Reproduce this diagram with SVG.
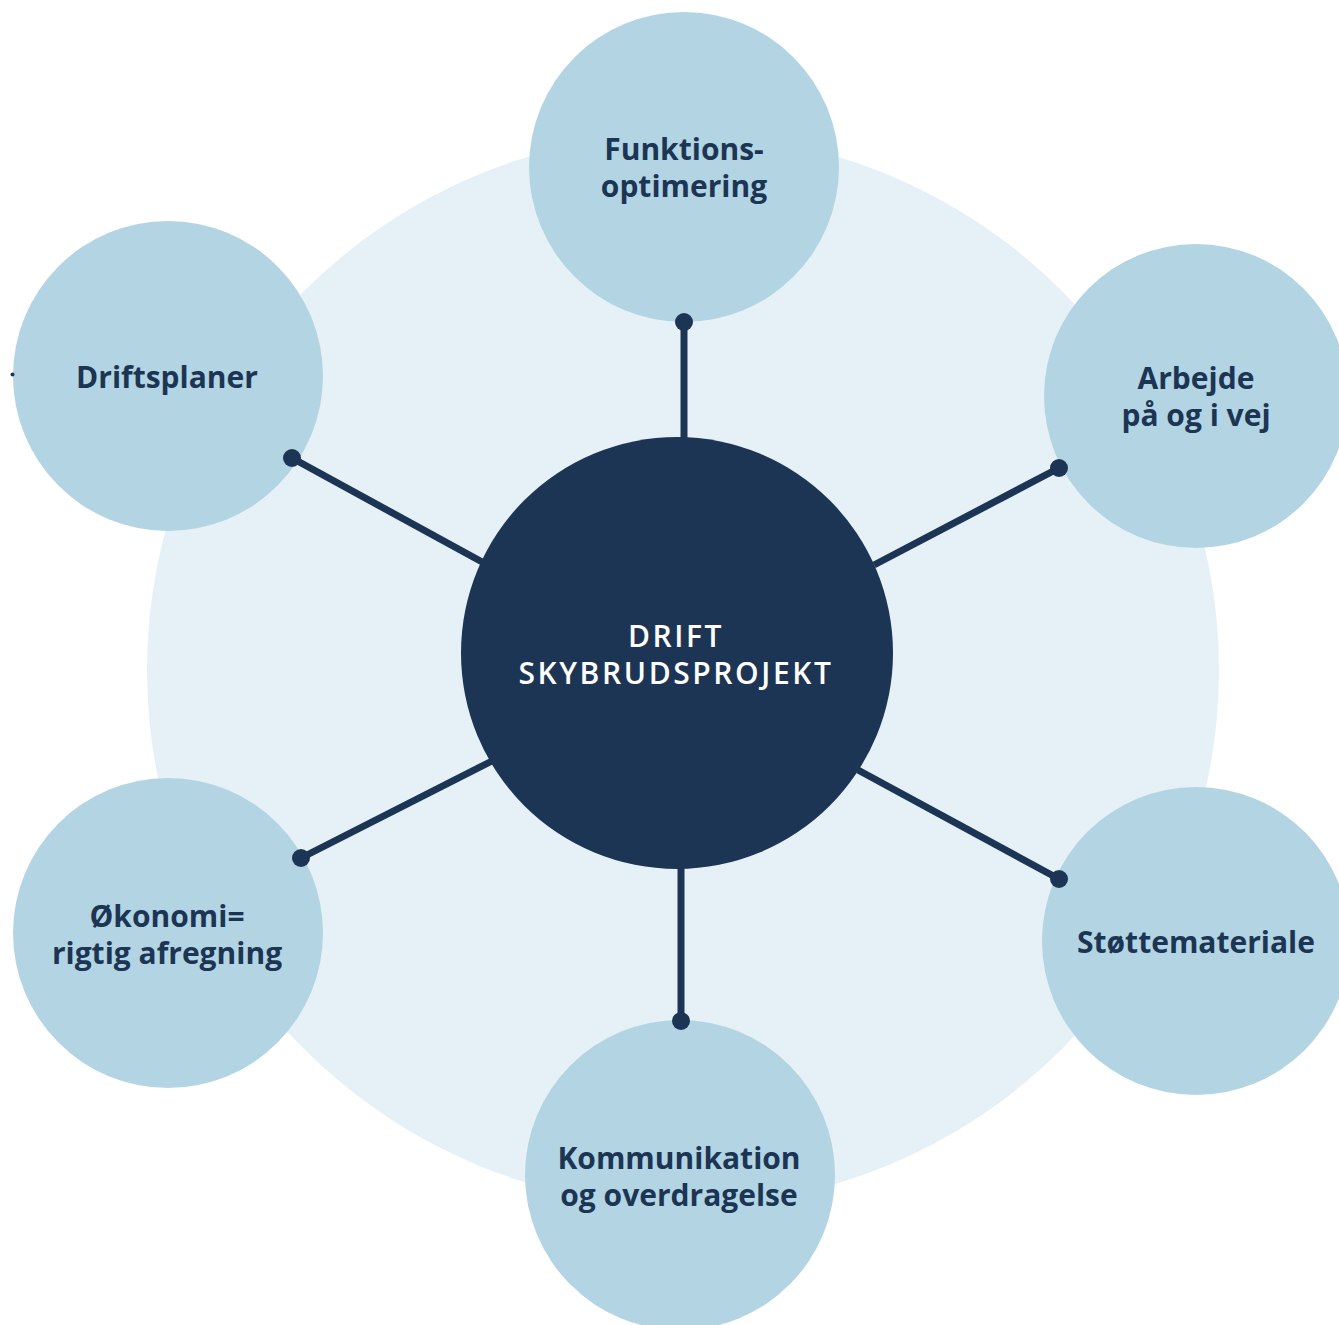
<svg xmlns="http://www.w3.org/2000/svg" width="1339" height="1325" viewBox="0 0 1339 1325">
  <style>
    .halo { fill: #e5f1f6; }
    .topic { fill: #b3d5e3; }
    .hub { fill: #1d3554; }
    .label { font-family: "Open Sans", Lato, "Liberation Sans", sans-serif; font-weight: 700; font-size: 30px; fill: #1d3554; text-anchor: middle; }
    .hub-label { font-family: "Open Sans", Lato, "Liberation Sans", sans-serif; font-weight: 600; font-size: 30px; fill: #ffffff; text-anchor: middle; letter-spacing: 2.6px; }
    .spoke { stroke: #1d3554; stroke-width: 7; fill: none; }
    .knob { fill: #1d3554; }
  </style>

  <!-- pale backdrop ring -->
  <circle class="halo" cx="683" cy="670" r="536"/>

  <g id="hub">
    <circle class="hub" cx="677" cy="653" r="216"/>
    <text class="hub-label" x="676" y="647">DRIFT</text>
    <text class="hub-label" x="676" y="684">SKYBRUDSPROJEKT</text>
  </g>

  <g id="funktionsoptimering">
    <circle class="topic" cx="684" cy="167" r="155"/>
    <text class="label" x="684" y="160">Funktions-</text>
    <text class="label" x="684" y="197">optimering</text>
  </g>

  <g id="driftsplaner">
    <circle class="topic" cx="168" cy="376" r="155"/>
    <circle class="knob" cx="12.5" cy="374.5" r="2"/>
    <text class="label" x="167" y="388">Driftsplaner</text>
  </g>

  <g id="arbejde">
    <circle class="topic" cx="1196" cy="396" r="152"/>
    <text class="label" x="1196" y="389">Arbejde</text>
    <text class="label" x="1196" y="426">på og i vej</text>
  </g>

  <g id="stoettemateriale">
    <circle class="topic" cx="1196" cy="941" r="154"/>
    <text class="label" x="1196" y="953">Støttemateriale</text>
  </g>

  <g id="kommunikation">
    <circle class="topic" cx="680" cy="1175" r="155"/>
    <text class="label" x="679" y="1169">Kommunikation</text>
    <text class="label" x="679" y="1206">og overdragelse</text>
  </g>

  <g id="oekonomi">
    <circle class="topic" cx="168" cy="933" r="155"/>
    <text class="label" x="167" y="927">Økonomi=</text>
    <text class="label" x="167" y="964">rigtig afregning</text>
  </g>

  <!-- spokes from the hub edge out to a knob on each topic -->
  <g id="connectors">
    <line class="spoke" x1="684" y1="322" x2="684" y2="440"/>
    <circle class="knob" cx="684" cy="322" r="9"/>
    <line class="spoke" x1="292" y1="458" x2="484" y2="563"/>
    <circle class="knob" cx="292" cy="458" r="9"/>
    <line class="spoke" x1="1059" y1="468" x2="874" y2="565"/>
    <circle class="knob" cx="1059" cy="468" r="9"/>
    <line class="spoke" x1="1059" y1="879" x2="858" y2="770"/>
    <circle class="knob" cx="1059" cy="879" r="9"/>
    <line class="spoke" x1="681" y1="1021" x2="681" y2="867"/>
    <circle class="knob" cx="681" cy="1021" r="9"/>
    <line class="spoke" x1="301" y1="858" x2="492" y2="761"/>
    <circle class="knob" cx="301" cy="858" r="9"/>
  </g>
</svg>
